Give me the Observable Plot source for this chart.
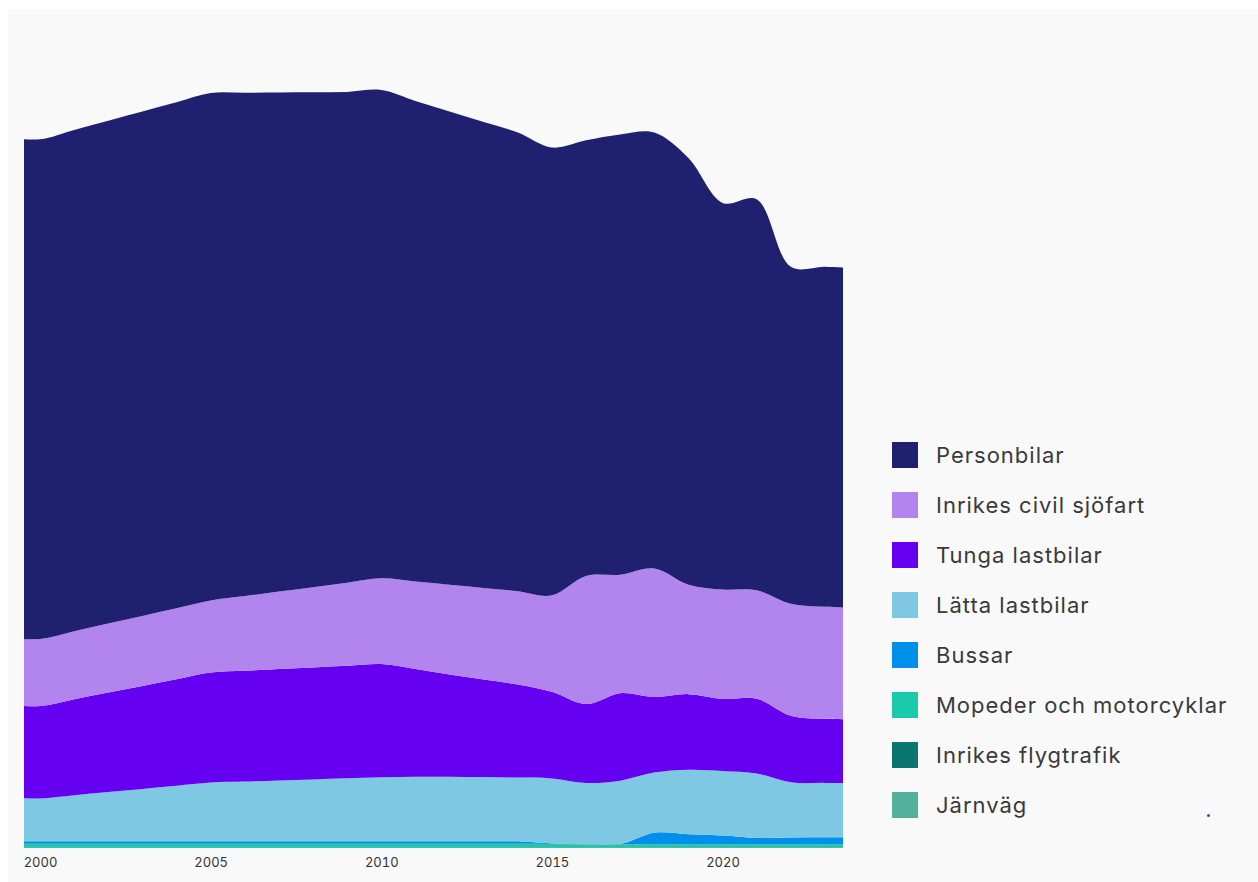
<!DOCTYPE html>
<html>
<head>
<meta charset="utf-8">
<script src="https://cdn.jsdelivr.net/npm/d3@7"></script>
<script src="https://cdn.jsdelivr.net/npm/@observablehq/plot@0.6"></script>
<style>
  html, body { margin: 0; padding: 0; background: #ffffff; }
  #panel { position: absolute; left: 8px; top: 9px; width: 1250px; height: 873px; background: #f9f9f9; }
  #chart { position: absolute; left: 0; top: 0; }
  .item { position: absolute; left: 892px; height: 26px; display: flex; align-items: center;
          font-family: Inter, "Open Sans", sans-serif; font-size: 22px; color: #3a3a3a; letter-spacing: 1px; white-space: nowrap; }
  .sw { width: 26px; height: 26px; margin-right: 18px; flex: none; }
  #dot { position: absolute; left: 1207px; top: 814px; width: 3px; height: 3px; border-radius: 50%; background: #3b3bf0; }
</style>
</head>
<body>
<div id="panel"></div>
<div id="chart"></div>
<div id="legend"></div>
<div id="dot"></div>
<script>
// Years (1999 and 2024 are only partly visible at the clipped edges)
const years = [1999,2000,2001,2002,2003,2004,2005,2006,2007,2008,2009,2010,2011,2012,2013,2014,2015,2016,2017,2018,2019,2020,2021,2022,2023,2024];

// Series values (Mt CO2e)
const personbilar = [13.90,13.881,13.925,13.967,14.011,14.053,14.097,13.983,13.864,13.747,13.631,13.564,13.347,13.144,12.942,12.739,12.44,12.10,12.23,12.11,11.85,10.74,10.86,9.36,9.45,9.42];
const sjofart     = [1.85,1.861,1.889,1.917,1.944,1.972,2.000,2.075,2.153,2.228,2.306,2.381,2.431,2.494,2.544,2.594,2.681,3.56,3.29,3.57,3.04,3.04,3.01,3.11,3.11,3.10];
const tunga       = [2.58,2.569,2.667,2.764,2.861,2.958,3.056,3.075,3.092,3.111,3.128,3.147,2.994,2.842,2.711,2.586,2.403,2.19,2.43,2.10,2.10,2.00,2.08,1.85,1.78,1.78];
const latta       = [1.22,1.189,1.278,1.367,1.456,1.544,1.633,1.661,1.692,1.719,1.750,1.778,1.792,1.792,1.783,1.769,1.806,1.70,1.76,1.67,1.79,1.79,1.79,1.53,1.51,1.50];
const bussar      = [0.067,0.067,0.067,0.067,0.067,0.067,0.067,0.067,0.067,0.067,0.067,0.067,0.067,0.067,0.067,0.067,0.014,0.003,0.006,0.320,0.280,0.245,0.175,0.190,0.195,0.195];
const mopeder     = [0.100,0.100,0.100,0.100,0.100,0.100,0.100,0.100,0.100,0.100,0.100,0.100,0.100,0.100,0.100,0.100,0.095,0.085,0.085,0.085,0.085,0.085,0.085,0.085,0.085,0.085];
const flyg        = [0.011,0.011,0.011,0.011,0.011,0.011,0.011,0.011,0.011,0.011,0.011,0.011,0.011,0.011,0.011,0.011,0.011,0.011,0.011,0.011,0.011,0.011,0.011,0.011,0.011,0.011];
const jarnvag     = [0.008,0.008,0.008,0.008,0.008,0.008,0.008,0.008,0.008,0.008,0.008,0.008,0.008,0.008,0.008,0.008,0.008,0.008,0.008,0.008,0.008,0.008,0.008,0.008,0.008,0.008];

// Legend order (top to bottom) and colours
const seriesNames  = ["Personbilar","Inrikes civil sjöfart","Tunga lastbilar","Lätta lastbilar","Bussar","Mopeder och motorcyklar","Inrikes flygtrafik","Järnväg"];
const seriesColors = ["#1f2170","#b284ee","#6600f0","#7ec8e3","#0090ec","#1bcaaa","#0b7570","#52b09d"];
const xTicks = [2000,2005,2010,2015,2020];

const valuesBy = {
  "Personbilar": personbilar,
  "Inrikes civil sjöfart": sjofart,
  "Tunga lastbilar": tunga,
  "Lätta lastbilar": latta,
  "Bussar": bussar,
  "Mopeder och motorcyklar": mopeder,
  "Inrikes flygtrafik": flyg,
  "Järnväg": jarnvag
};
const stackOrder = seriesNames.slice().reverse(); // bottom to top
const rows = [];
for (const s of stackOrder) {
  years.forEach((y, i) => rows.push({year: y, series: s, value: valuesBy[s][i]}));
}

const chart = Plot.plot({
  width: 1258,
  height: 882,
  marginLeft: 24,
  marginRight: 415,
  marginTop: 56,
  marginBottom: 34,
  style: {background: "transparent", fontFamily: "Inter, 'Open Sans', sans-serif", color: "#333"},
  x: {domain: [1999.53, 2023.53], axis: null},
  y: {domain: [0, 22], axis: null},
  color: {domain: seriesNames, range: seriesColors},
  marks: [
    Plot.areaY(rows, {x: "year", y: "value", z: "series", fill: "series", order: stackOrder, curve: "catmull-rom", clip: true}),
    Plot.axisX({ticks: xTicks, tickFormat: d => String(d), tickSize: 0, tickPadding: 9, fontSize: 13, fill: "#333", label: null})
  ]
});
document.getElementById("chart").appendChild(chart);

const legend = document.getElementById("legend");
seriesNames.forEach((name, i) => {
  const it = document.createElement("div");
  it.className = "item";
  it.style.top = (442 + i * 50) + "px";
  const sw = document.createElement("div");
  sw.className = "sw";
  sw.style.background = seriesColors[i];
  const tx = document.createElement("span");
  tx.textContent = name;
  it.appendChild(sw);
  it.appendChild(tx);
  legend.appendChild(it);
});
</script>
</body>
</html>
